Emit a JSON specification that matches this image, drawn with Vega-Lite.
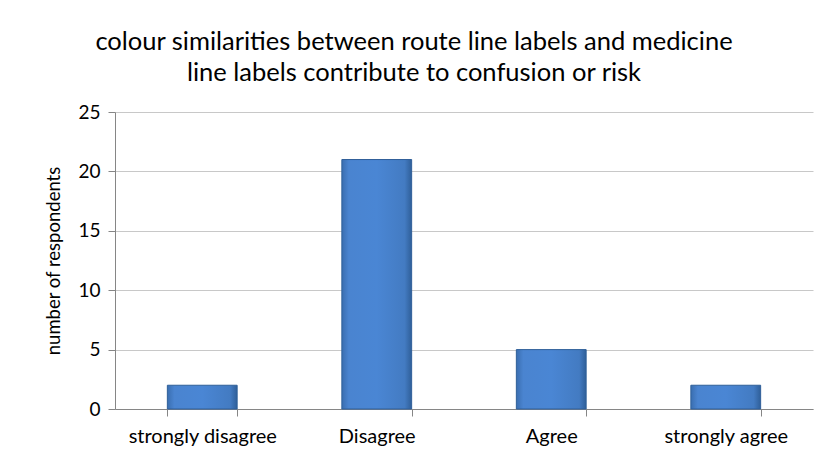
{
  "$schema": "https://vega.github.io/schema/vega-lite/v6.json",
  "autosize": "none",
  "width": 698,
  "height": 297,
  "padding": {"left": 115, "top": 112, "right": 24, "bottom": 51},
  "background": "white",
  "title": {
    "text": ["colour similarities between  route line labels and medicine", "line labels contribute to confusion or risk"],
    "font": "Lato",
    "fontSize": 25.5,
    "fontWeight": "normal",
    "color": "#000000",
    "lineHeight": 31,
    "anchor": "middle",
    "dx": -50,
    "offset": 17
  },
  "data": {
    "values": [
      {"response": "strongly disagree", "count": 2},
      {"response": "Disagree", "count": 21},
      {"response": "Agree", "count": 5},
      {"response": "strongly agree", "count": 2}
    ]
  },
  "mark": {
    "type": "bar",
    "stroke": "#2f5f99",
    "strokeWidth": 1,
    "fill": {
      "gradient": "linear",
      "x1": 0, "y1": 0, "x2": 1, "y2": 0,
      "stops": [
        {"offset": 0, "color": "#3a6eb0"},
        {"offset": 0.1, "color": "#4a84d0"},
        {"offset": 0.5, "color": "#4a86d4"},
        {"offset": 0.9, "color": "#437bc2"},
        {"offset": 1, "color": "#2f5f99"}
      ]
    }
  },
  "encoding": {
    "x": {
      "field": "response",
      "type": "nominal",
      "sort": null,
      "scale": {"paddingInner": 0.6, "paddingOuter": 0.3},
      "axis": {
        "title": null,
        "labelAngle": 0,
        "labelFont": "Lato",
        "labelFontSize": 20,
        "labelColor": "#000000",
        "labelPadding": 10,
        "domainColor": "#868686",
        "tickColor": "#868686",
        "tickBand": "extent",
        "tickSize": 7
      }
    },
    "y": {
      "field": "count",
      "type": "quantitative",
      "scale": {"domain": [0, 25]},
      "axis": {
        "title": "number of respondents",
        "titleFont": "Lato",
        "titleFontSize": 18.5,
        "titleFontWeight": "normal",
        "titleColor": "#000000",
        "titlePadding": 14,
        "values": [0, 5, 10, 15, 20, 25],
        "labelFont": "Lato",
        "labelFontSize": 19,
        "labelColor": "#000000",
        "labelPadding": 8,
        "domainColor": "#868686",
        "tickColor": "#868686",
        "tickSize": 7,
        "grid": true,
        "gridColor": "#c8c8c8",
        "gridWidth": 1
      }
    }
  },
  "config": {
    "view": {"stroke": null}
  }
}
